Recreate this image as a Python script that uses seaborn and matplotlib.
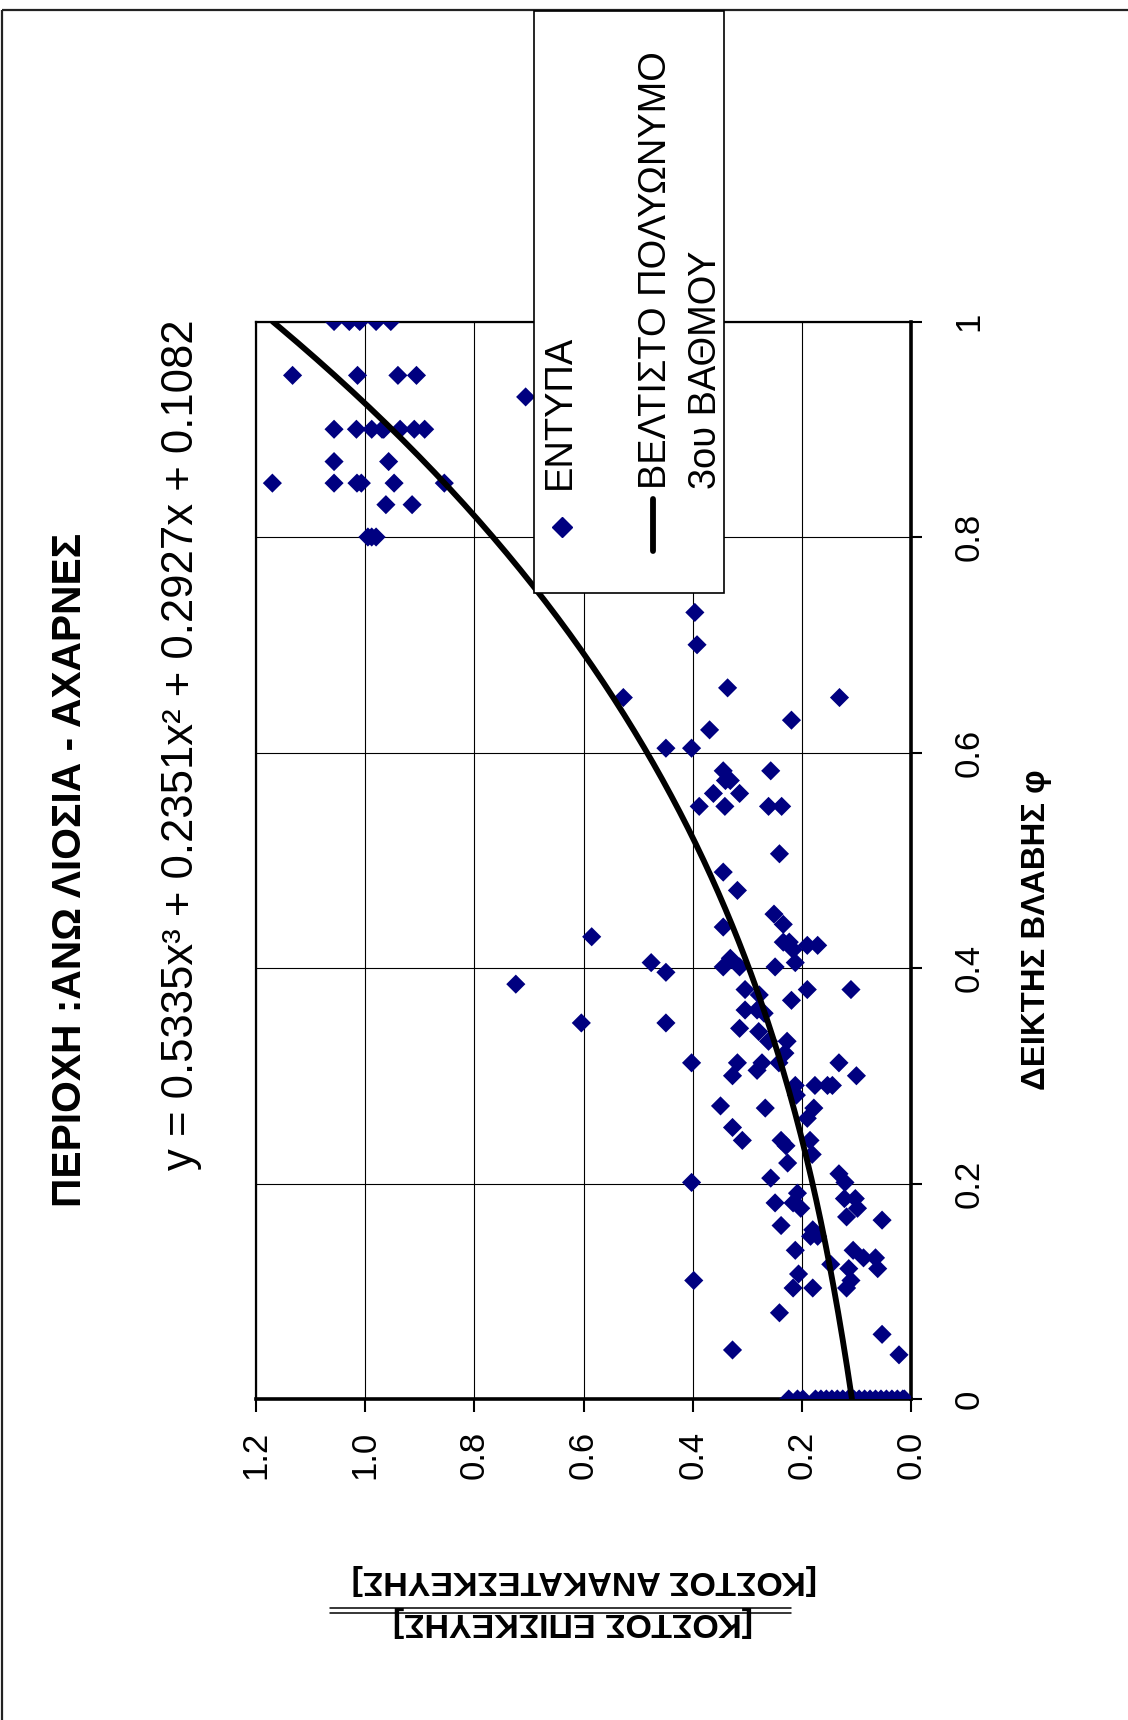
import numpy as np
import pandas as pd
import matplotlib
matplotlib.use("Agg")
import matplotlib.pyplot as plt
import seaborn as sns
from matplotlib.lines import Line2D
from matplotlib.patches import Rectangle

# ---------------- data ----------------
title_text = "ΠΕΡΙΟΧΗ :ΑΝΩ ΛΙΟΣΙΑ - ΑΧΑΡΝΕΣ"
equation_text = "y = 0.5335x³ + 0.2351x² + 0.2927x + 0.1082"
xlabel_text = "ΔΕΙΚΤΗΣ ΒΛΑΒΗΣ φ"
ylabel_num = "[ΚΟΣΤΟΣ ΕΠΙΣΚΕΥΗΣ]"
ylabel_den = "[ΚΟΣΤΟΣ ΑΝΑΚΑΤΕΣΚΕΥΗΣ]"
legend_points = "ΕΝΤΥΠΑ"
legend_line = ["ΒΕΛΤΙΣΤΟ ΠΟΛΥΩΝΥΜΟ", "3ου ΒΑΘΜΟΥ"]

# polynomial trend coefficients (highest power first), as printed on the chart
poly_coef = [0.5335, 0.2351, 0.2927, 0.1082]

phi_ticks = [0, 0.2, 0.4, 0.6, 0.8, 1.0]
phi_tick_labels = ["0", "0.2", "0.4", "0.6", "0.8", "1"]
cost_ticks = [0.0, 0.2, 0.4, 0.6, 0.8, 1.0, 1.2]
cost_tick_labels = ["0.0", "0.2", "0.4", "0.6", "0.8", "1.0", "1.2"]

# damage index phi and cost ratio
phi = [1.0, 1.0, 1.0, 1.0, 1.0,
       0.95, 0.95, 0.95, 0.95,
       0.93,
       0.90, 0.90, 0.90, 0.90, 0.90, 0.90, 0.90, 0.90,
       0.87, 0.87,
       0.85, 0.85, 0.85, 0.85, 0.85, 0.85,
       0.83, 0.83,
       0.80, 0.80, 0.80,
       0.73, 0.70, 0.66, 0.651, 0.651, 0.63, 0.621, 0.604, 0.604,
       0.583, 0.583, 0.574, 0.574, 0.562, 0.562,
       0.55, 0.55, 0.55, 0.55, 0.506, 0.489, 0.472, 0.45, 0.4405, 0.438,
       0.429, 0.424, 0.424, 0.421, 0.421, 0.417, 0.409, 0.405, 0.405,
       0.401, 0.401, 0.401, 0.396, 0.385, 0.380, 0.380, 0.380, 0.375,
       0.370, 0.361, 0.361, 0.358, 0.349, 0.349, 0.344, 0.341, 0.332, 0.332,
       0.321, 0.312, 0.312, 0.312, 0.312, 0.312, 0.305, 0.300, 0.300,
       0.291, 0.291, 0.291, 0.291, 0.282, 0.272, 0.270, 0.270, 0.2605,
       0.252, 0.240, 0.240, 0.240, 0.235, 0.227, 0.219, 0.209, 0.205,
       0.201, 0.201, 0.191, 0.186, 0.186, 0.182, 0.182, 0.177, 0.177,
       0.169, 0.166, 0.161, 0.157, 0.151, 0.151, 0.138, 0.138, 0.131, 0.131,
       0.125, 0.121, 0.121, 0.116, 0.110, 0.110, 0.103, 0.103, 0.103,
       0.080, 0.060, 0.0455, 0.041,
       0.0, 0.0, 0.0, 0.0, 0.0, 0.0, 0.0, 0.0, 0.0, 0.0, 0.0,
       0.0, 0.0, 0.0, 0.0, 0.0, 0.0, 0.0, 0.0, 0.0, 0.0]
cost = [1.057, 1.029, 1.010, 0.980, 0.953,
        1.133, 1.014, 0.940, 0.906,
        0.706,
        1.057, 1.016, 0.988, 0.969, 0.966, 0.936, 0.910, 0.891,
        1.057, 0.957,
        1.170, 1.057, 1.015, 1.007, 0.947, 0.855,
        0.962, 0.914,
        0.995, 0.988, 0.980,
        0.396, 0.392, 0.336, 0.527, 0.131, 0.219, 0.369, 0.449, 0.402,
        0.344, 0.257, 0.331, 0.340, 0.362, 0.314,
        0.388, 0.341, 0.261, 0.237, 0.241, 0.344, 0.318, 0.251, 0.234, 0.344,
        0.585, 0.234, 0.223, 0.190, 0.171, 0.216, 0.331, 0.476, 0.212,
        0.344, 0.314, 0.249, 0.449, 0.724, 0.304, 0.190, 0.110, 0.278,
        0.219, 0.304, 0.282, 0.269, 0.604, 0.449, 0.314, 0.279, 0.261, 0.227,
        0.231, 0.402, 0.318, 0.273, 0.242, 0.132, 0.282, 0.327, 0.100,
        0.212, 0.176, 0.153, 0.144, 0.210, 0.349, 0.267, 0.178, 0.190,
        0.327, 0.309, 0.238, 0.185, 0.229, 0.181, 0.226, 0.132, 0.257,
        0.402, 0.121, 0.208, 0.122, 0.102, 0.249, 0.216, 0.202, 0.098,
        0.118, 0.053, 0.238, 0.180, 0.184, 0.171, 0.212, 0.106, 0.087, 0.065,
        0.147, 0.114, 0.061, 0.206, 0.398, 0.110, 0.216, 0.180, 0.118,
        0.241, 0.053, 0.327, 0.022,
        0.224, 0.208, 0.198, 0.175, 0.165, 0.155, 0.145, 0.135, 0.125, 0.115, 0.105,
        0.095, 0.085, 0.075, 0.065, 0.055, 0.045, 0.035, 0.025, 0.015, 0.012]

# ---------------- figure ----------------
sns.set_theme(style="white")
plt.rcParams["font.family"] = ["Liberation Sans", "DejaVu Sans"]
NARROW = ["Liberation Sans Narrow", "Liberation Sans", "DejaVu Sans"]

W, H = 1128, 1720
fig = plt.figure(figsize=(W / 100, H / 100), dpi=100)
fig.patch.set_facecolor("white")


def P(x, y):
    return (x / W, 1 - y / H)


L, R, T, B = 256, 911, 321.5, 1399
ax = fig.add_axes([L / W, 1 - B / H, (R - L) / W, (B - T) / H])
ax.set_facecolor("white")

df = pd.DataFrame({"cost": cost, "phi": phi})
sns.scatterplot(data=df, x="cost", y="phi", marker="D", s=95, color="#000080",
                edgecolor="none", linewidth=0, ax=ax, zorder=3, legend=False)

phi_fit = np.linspace(0.0, 1.0, 201)
cost_fit = np.polyval(poly_coef, phi_fit)
sns.lineplot(x=cost_fit, y=phi_fit, sort=False, estimator=None, color="black",
             linewidth=4.2, ax=ax, zorder=4)

ax.set_xlim(1.2, 0)
ax.set_ylim(0, 1)
ax.set_xticks(cost_ticks)
ax.set_xticklabels(cost_tick_labels, rotation=90, fontsize=25)
ax.yaxis.tick_right()
ax.set_yticks(phi_ticks)
ax.set_yticklabels(phi_tick_labels, rotation=90, fontsize=25)
for lab in ax.get_yticklabels():
    lab.set_va("center")
    lab.set_ha("left")
ax.set_xlabel("")
ax.set_ylabel("")
ax.grid(True, color="black", linewidth=0.8)
ax.set_axisbelow(True)
ax.tick_params(axis="x", bottom=True, top=False, direction="out", length=9,
               width=1.5, pad=14, colors="black")
ax.tick_params(axis="y", right=True, left=False, direction="out", length=8,
               width=1.5, pad=22, colors="black")
for side in ["left", "top"]:
    ax.spines[side].set_color("black")
    ax.spines[side].set_linewidth(1.6)
for side in ["right", "bottom"]:
    ax.spines[side].set_color("black")
    ax.spines[side].set_linewidth(2.6)

# ---------------- texts ----------------
fig.canvas.draw()
renderer = fig.canvas.get_renderer()


def fit(t, length, vertical=True):
    bb = t.get_window_extent(renderer)
    cur = bb.height if vertical else bb.width
    t.set_fontsize(t.get_fontsize() * length / cur)


t_title = fig.text(*P(70, 870), title_text, rotation=90, ha="center", va="center",
                   fontweight="bold", fontsize=29, color="black")
fit(t_title, 675)
t_eq = fig.text(*P(182, 745), equation_text, rotation=90, ha="center", va="center",
                fontsize=30, color="black")
fit(t_eq, 848)
t_xl = fig.text(*P(1037, 930), xlabel_text, rotation=90, ha="center", va="center",
                fontweight="bold", fontsize=28, family=NARROW, color="black")
fit(t_xl, 320)
t_den = fig.text(*P(584, 1579), ylabel_den, rotation=180, ha="center", va="center",
                 fontweight="bold", fontsize=28, family=NARROW, color="black")
fit(t_den, 467, vertical=False)
t_num = fig.text(*P(573, 1621), ylabel_num, rotation=180, ha="center", va="center",
                 fontweight="bold", fontsize=t_den.get_fontsize(), family=NARROW,
                 color="black")
for yy in (1607.5, 1612.5):
    fig.add_artist(Line2D([330 / W, 791 / W], [1 - yy / H, 1 - yy / H],
                          transform=fig.transFigure, color="black", lw=1.1))

# ---------------- legend (rotated, drawn by hand) ----------------
fig.add_artist(Rectangle(P(534, 593), 190 / W, 582 / H, transform=fig.transFigure,
                         facecolor="white", edgecolor="black", lw=1.2, zorder=10))
fig.add_artist(Line2D([562 / W], [1 - 527 / H], transform=fig.transFigure,
                      marker="D", markersize=9.7, color="#000080", lw=0, zorder=11))
fig.add_artist(Line2D([653 / W, 653 / W], [1 - 499 / H, 1 - 551 / H],
                      transform=fig.transFigure, color="black", lw=4.2,
                      solid_capstyle="round", zorder=11))
t_l1 = fig.text(*P(656, 489), legend_line[0], rotation=90, ha="center", va="bottom",
                fontsize=27, color="black", zorder=11)
fit(t_l1, 439)
fs = t_l1.get_fontsize()
fig.text(*P(706, 489), legend_line[1], rotation=90, ha="center", va="bottom",
         fontsize=fs, color="black", zorder=11)
fig.text(*P(560, 489), legend_points, rotation=90, ha="center", va="bottom",
         fontsize=fs, color="black", zorder=11)

# ---------------- outer frame ----------------
fig.add_artist(Line2D([2 / W, 1.0], [1 - 10 / H, 1 - 10 / H], transform=fig.transFigure,
                      color="#222222", lw=1.6, solid_capstyle="butt"))
fig.add_artist(Line2D([2 / W, 2 / W], [1 - 10 / H, 0.0], transform=fig.transFigure,
                      color="#222222", lw=1.6, solid_capstyle="butt"))

fig.savefig("out.png", dpi=100, facecolor="white")
